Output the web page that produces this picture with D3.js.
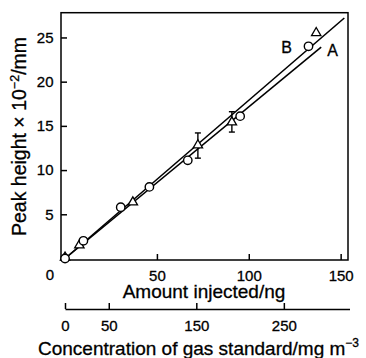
<!DOCTYPE html>
<html>
<head>
<meta charset="utf-8">
<script src="https://cdn.jsdelivr.net/npm/d3@7"></script>
<style>
  body { margin: 0; background: #fff; }
  svg { display: block; font-family: "Liberation Sans", Arial, sans-serif; }
  text { stroke: #000; stroke-width: 0.3px; }
</style>
</head>
<body>
<svg width="366" height="358"></svg>
<script>
// data
const circleX = [0, 10, 30.3, 45.9, 66.8, 95.3, 132.5];
const circleY = [0, 2.0, 5.8, 8.1, 11.1, 16.1, 24.0];
const triX = [0, 7.8, 36.9, 72.3, 90.8, 136.7];
const triY = [0, 1.4, 6.25, 12.7, 15.3, 25.4];
// error bars (on triangles)
const errX = [72.3, 90.8];
const errLow = [11.35, 14.3];
const errHigh = [14.2, 16.6];
// fitted lines from origin
const lineNames = ["A", "B"];
const lineEndX = [139.4, 152];
const lineEndY = [23.9, 27.2];

const yTicks = [5, 10, 15, 20, 25];
const xTicks = [50, 100, 150];
const concTicks = [0, 50, 150, 250];

const svg = d3.select('svg');

const x = d3.scaleLinear().domain([-2.2, 154]).range([61, 348]);
const y = d3.scaleLinear().domain([-0.17, 27.8]).range([260, 12.7]);
const xc = d3.scaleLinear().domain([0, 325]).range([65, 349.5]);

// frame
svg.append('rect')
    .attr('x', 61).attr('y', 12.7)
    .attr('width', 348 - 61).attr('height', 260 - 12.7)
    .attr('fill', 'none').attr('stroke', '#000').attr('stroke-width', 1.5);

//Axis
const yAxis = d3.axisLeft(y).tickValues(yTicks).tickSize(-6).tickSizeOuter(0).tickPadding(7.5);
const xAxis = d3.axisBottom(x).tickValues(xTicks).tickSize(-6).tickSizeOuter(0).tickPadding(10);
const cAxis = d3.axisBottom(xc).tickValues(concTicks).tickSize(-6).tickSizeOuter(0).tickPadding(11.5);

const gy = svg.append('g').attr('transform', 'translate(61,0)').call(yAxis);
const gx = svg.append('g').attr('transform', 'translate(0,260)').call(xAxis);
const gc = svg.append('g').attr('transform', 'translate(0,309)').call(cAxis);
gy.select('.domain').remove();
gx.select('.domain').remove();
[gy, gx, gc].forEach(g => {
    g.selectAll('line').attr('stroke-width', 1.5);
    g.select('.domain').attr('stroke-width', 1.5);
    g.selectAll('text').attr('font-size', 15).attr('font-family', 'Liberation Sans, Arial, sans-serif');
});

// corner zero
svg.append('text').attr('x', 50).attr('y', 279.5)
    .attr('text-anchor', 'middle').attr('font-size', 15).text('0');

// lines A and B
lineNames.forEach((n, i) => {
    svg.append('line')
        .attr('x1', x(0)).attr('y1', y(0))
        .attr('x2', x(lineEndX[i])).attr('y2', y(lineEndY[i]))
        .attr('stroke', '#000').attr('stroke-width', 1.6);
});
svg.append('text').attr('x', 286.5).attr('y', 52.5).attr('text-anchor', 'middle')
    .attr('font-size', 16).text('B');
svg.append('text').attr('x', 332.5).attr('y', 56).attr('text-anchor', 'middle')
    .attr('font-size', 16).text('A');

// error bars
errX.forEach((v, i) => {
    const g = svg.append('g').attr('stroke', '#000').attr('stroke-width', 1.4);
    g.append('line').attr('x1', x(v)).attr('x2', x(v)).attr('y1', y(errLow[i])).attr('y2', y(errHigh[i]));
    g.append('line').attr('x1', x(v) - 3).attr('x2', x(v) + 3).attr('y1', y(errLow[i])).attr('y2', y(errLow[i]));
    g.append('line').attr('x1', x(v) - 3).attr('x2', x(v) + 3).attr('y1', y(errHigh[i])).attr('y2', y(errHigh[i]));
});

// triangles
const tri = d3.symbol().type(d3.symbolTriangle).size(38);
svg.selectAll('path.tri').data(triX).enter().append('path')
    .attr('class', 'tri')
    .attr('d', tri)
    .attr('transform', (d, i) => `translate(${x(d)},${y(triY[i]) - 1})`)
    .attr('fill', '#fff').attr('stroke', '#000').attr('stroke-width', 1.3);

// circles
svg.selectAll('circle.pt').data(circleX).enter().append('circle')
    .attr('class', 'pt')
    .attr('cx', d => x(d))
    .attr('cy', (d, i) => y(circleY[i]))
    .attr('r', 4.2)
    .attr('fill', '#fff').attr('stroke', '#000').attr('stroke-width', 1.4);

// titles
svg.append('text').attr('x', 204).attr('y', 297.5).attr('text-anchor', 'middle')
    .attr('font-size', 19).text('Amount injected/ng');

const ct = svg.append('text').attr('x', 38).attr('y', 354.5).attr('font-size', 19);
ct.append('tspan').text('Concentration of gas standard/mg m');
ct.append('tspan').attr('font-size', 12).attr('dy', -7.5).text('−3');

const yt = svg.append('text')
    .attr('transform', 'translate(26,136.5) rotate(-90)')
    .attr('text-anchor', 'middle').attr('font-size', 19.5);
yt.append('tspan').text('Peak height × 10');
yt.append('tspan').attr('font-size', 12.5).attr('dy', -7.5).text('−2');
yt.append('tspan').attr('dy', 7.5).text('/mm');
</script>
</body>
</html>
